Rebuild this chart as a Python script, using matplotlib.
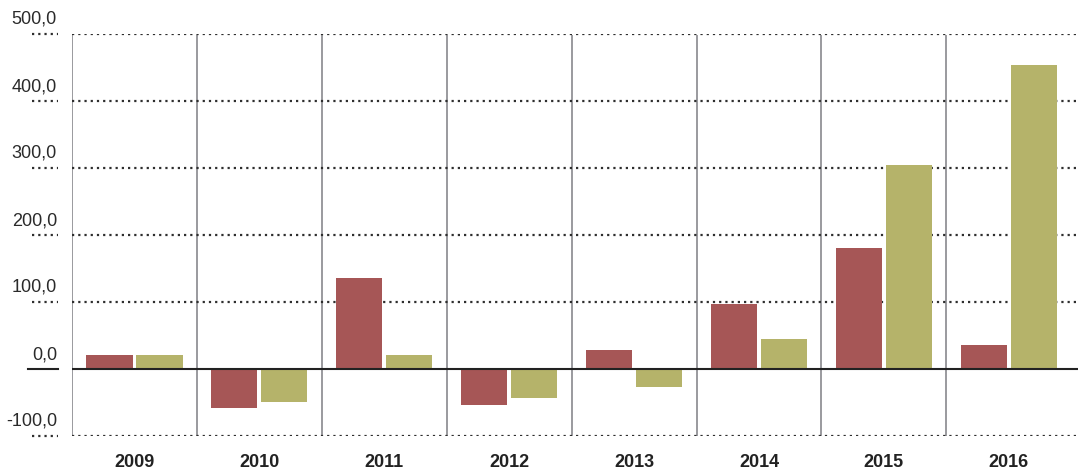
import matplotlib
matplotlib.use("Agg")
import matplotlib.pyplot as plt
import numpy as np

plt.rcParams['font.family'] = ['Liberation Sans Narrow', 'Liberation Sans', 'DejaVu Sans']

years = ['2009', '2010', '2011', '2012', '2013', '2014', '2015', '2016']
serie_a = [21, -58, 136, -54, 28, 97, 181, 36]
serie_b = [21, -49, 21, -43, -27, 45, 305, 454]
yticks = [-100, 0, 100, 200, 300, 400, 500]

W, H = 1078, 470
fig = plt.figure(figsize=(W / 100, H / 100), dpi=100)
x0, x1, y0, y1 = 72, 1078, 34, 436
ax = fig.add_axes([x0 / W, 1 - y1 / H, (x1 - x0) / W, (y1 - y0) / H])

grp = 124.9  # px per group
ax.set_xlim(-0.5, -0.5 + (x1 - x0) / grp)
ax.set_ylim(-100, 500)

x = np.arange(len(years))
bw = 0.37
ax.bar(x - 0.2, serie_a, bw, color='#a65656', zorder=2)
ax.bar(x + 0.2, serie_b, bw, color='#b5b36a', zorder=2)

# separateurs verticaux
for i in range(len(years)):
    ax.plot([i - 0.5, i - 0.5], [-100, 497], color='#9a9a9e', lw=1.4, zorder=1)

# lignes de grille
for v in yticks:
    if v == 0:
        ax.axhline(0, color='#222222', lw=1.5, zorder=3)
    else:
        ax.axhline(v, color='#2e2e2e', lw=1.6, ls=(0, (1, 1.8)), zorder=1)

# petits traits et etiquettes a gauche
for v in yticks:
    fy = ax.transData.transform((0, v))[1] / H
    if v == 0:
        fig.add_artist(plt.Line2D([28 / W, 58 / W], [fy, fy], color='#222222', lw=1.5))
    else:
        fig.add_artist(plt.Line2D([32 / W, 58 / W], [fy, fy], color='#2e2e2e', lw=1.6,
                                  ls=(0, (1, 1.8))))
    fig.text(57 / W, fy + 6 / H, f'{v:.1f}'.replace('.', ','), ha='right', va='bottom',
             fontsize=13, color='#2a2a2a')

for i, yr in enumerate(years):
    ax.text(i, -140, yr, ha='center', va='center', fontsize=13,
            fontweight='bold', color='#222222')

for s in ax.spines.values():
    s.set_visible(False)
ax.set_xticks([])
ax.set_yticks([])

fig.savefig('out.png', dpi=100)
